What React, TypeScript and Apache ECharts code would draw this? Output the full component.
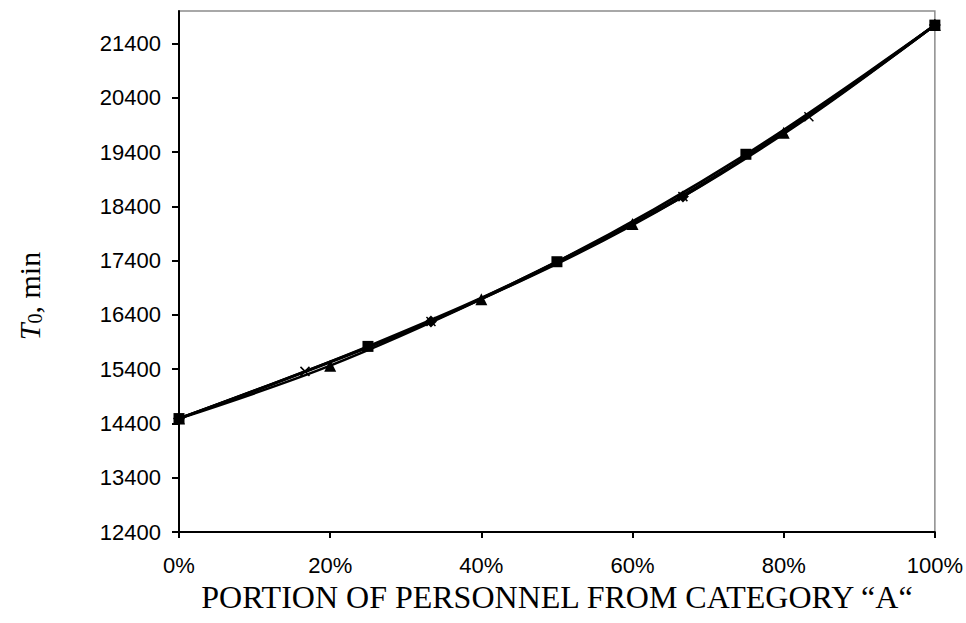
import React, { useEffect, useRef } from "react";
import * as echarts from "echarts";

// Portion of personnel from category "A" (fraction) and T0 values (min)
const diamondX = [0, 1 / 3, 2 / 3, 1];
const diamondY = [14490, 16280, 18580, 21740];

const squareX = [0, 0.25, 0.5, 0.75, 1];
const squareY = [14490, 15820, 17380, 19360, 21740];

const triangleX = [0, 0.2, 0.4, 0.6, 0.8, 1];
const triangleY = [14490, 15465, 16690, 18075, 19755, 21740];

const crossX = [0, 1 / 6, 1 / 3, 0.5, 2 / 3, 5 / 6, 1];
const crossY = [14490, 15360, 16280, 17380, 18580, 20050, 21740];

const yTicks = [12400, 13400, 14400, 15400, 16400, 17400, 18400, 19400, 20400, 21400];
const xTitle = "PORTION OF PERSONNEL FROM CATEGORY \u201CA\u201C";

const pairs = (xs: number[], ys: number[]) => xs.map((x, i) => [x, ys[i]]);

export default function App() {
  const ref = useRef<HTMLDivElement>(null);
  useEffect(() => {
    if (!ref.current) return;
    const chart = echarts.init(ref.current, null, { renderer: "svg" });
    const line = { color: "#000", width: 2.6 };
    const mk = (name: string, data: number[][], symbol: string, size: number, extra: any = {}) => ({
      name,
      type: "line",
      data,
      symbol,
      symbolSize: size,
      showSymbol: true,
      smooth: 0.35,
      lineStyle: line,
      itemStyle: { color: "#000", ...extra },
      z: 3,
    });
    chart.setOption({
      animation: false,
      backgroundColor: "#fff",
      grid: {
        left: 179,
        right: 28,
        top: 11,
        bottom: 91,
        show: true,
        borderColor: "#8c8c8c",
        borderWidth: 1.5,
      },
      xAxis: {
        type: "value",
        min: 0,
        max: 1,
        interval: 0.2,
        name: xTitle,
        nameLocation: "middle",
        nameGap: 47,
        nameTextStyle: { fontFamily: "Liberation Serif", fontSize: 32, color: "#000" },
        axisLine: { show: true, lineStyle: { color: "#000", width: 2 } },
        axisTick: { show: true, inside: false, length: 6, lineStyle: { color: "#000", width: 2 } },
        axisLabel: {
          fontFamily: "Liberation Sans",
          fontSize: 22,
          color: "#000",
          margin: 22,
          formatter: (v: number) => `${Math.round(v * 100)}%`,
        },
        splitLine: { show: false },
      },
      yAxis: {
        type: "value",
        min: 12400,
        max: 22000,
        axisLine: { show: true, lineStyle: { color: "#000", width: 2 } },
        axisTick: {
          show: true,
          inside: false,
          length: 7,
          customValues: yTicks,
          lineStyle: { color: "#000", width: 2 },
        },
        axisLabel: {
          fontFamily: "Liberation Sans",
          fontSize: 22,
          color: "#000",
          margin: 18,
          customValues: yTicks,
          formatter: (v: number) => String(v),
        },
        splitLine: { show: false },
      },
      graphic: [
        {
          type: "text",
          x: 29,
          y: 296,
          rotation: Math.PI / 2,
          style: {
            text: "{i|T}{s|0}{n|, min}",
            align: "center",
            verticalAlign: "middle",
            rich: {
              i: { fontFamily: "Liberation Serif", fontStyle: "italic", fontSize: 30, fill: "#000" },
              s: { fontFamily: "Liberation Serif", fontSize: 20, fill: "#000", padding: [12, 0, 0, 0] },
              n: { fontFamily: "Liberation Serif", fontSize: 30, fill: "#000" },
            },
          },
        },
      ],
      series: [
        mk("n=3", pairs(diamondX, diamondY), "diamond", 12),
        mk("n=4", pairs(squareX, squareY), "rect", 11),
        mk("n=5", pairs(triangleX, triangleY), "triangle", 12),
        mk("n=6", pairs(crossX, crossY), "path://M0,0 L10,10 M10,0 L0,10", 9, {
          borderColor: "#000",
          borderWidth: 1.5,
        }),
      ],
    });
    return () => chart.dispose();
  }, []);
  return (
    <div
      ref={ref}
      style={{ position: "fixed", left: 0, top: 0, width: 966, height: 623 }}
    />
  );
}
